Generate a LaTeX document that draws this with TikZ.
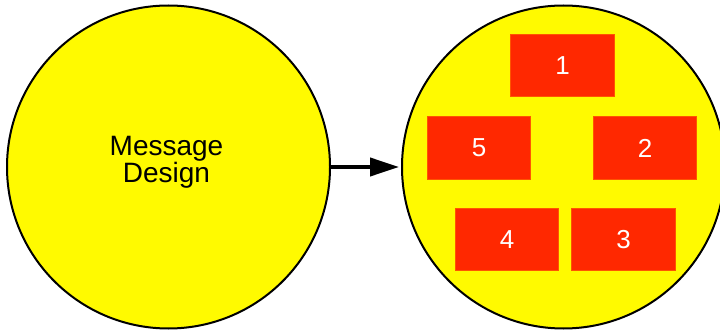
\documentclass[tikz,border=0pt]{standalone}
\usepackage{fontspec}
\setmainfont{Liberation Sans}
\usetikzlibrary{arrows.meta}
\definecolor{ylw}{RGB}{255,250,0}
\definecolor{redbox}{RGB}{255,40,0}
\definecolor{rededge}{RGB}{255,85,0}
\tikzset{
  bigcircle/.style={circle, draw=black, line width=2pt, fill=ylw, minimum size=323pt, inner sep=0pt},
  numbox/.style={rectangle, fill=redbox, draw=rededge, line width=0.6pt, minimum width=103.5pt, minimum height=62.5pt, inner sep=0pt, text=white, font=\fontsize{26}{26}\selectfont},
  conn/.style={line width=4pt, -{Triangle[length=29pt,width=18pt]}}
}
\begin{document}
\begin{tikzpicture}[x=1pt,y=-1pt]
\useasboundingbox (0,0) rectangle (720,331);
\node[bigcircle] (msg) at (168.5,167) {};
\node[bigcircle] (parts) at (563.5,167) {};
\node[align=center, font=\fontsize{28}{27}\selectfont, inner sep=0pt] (msgtext) at (166.5,162.5) {Message\\Design};
\node[numbox] (b1) at (562.5,65.5) {\raisebox{-3.5pt}{1}};
\node[numbox] (b5) at (479,148) {\raisebox{-3.5pt}{5}};
\node[numbox] (b2) at (645,148) {\raisebox{-3.5pt}{2}};
\node[numbox] (b4) at (507,239.5) {\raisebox{-3.5pt}{4}};
\node[numbox] (b3) at (623.5,239.5) {\raisebox{-3.5pt}{3}};
\draw[conn] (msg.east) -- ([xshift=-2pt]parts.west);
\end{tikzpicture}
\end{document}
